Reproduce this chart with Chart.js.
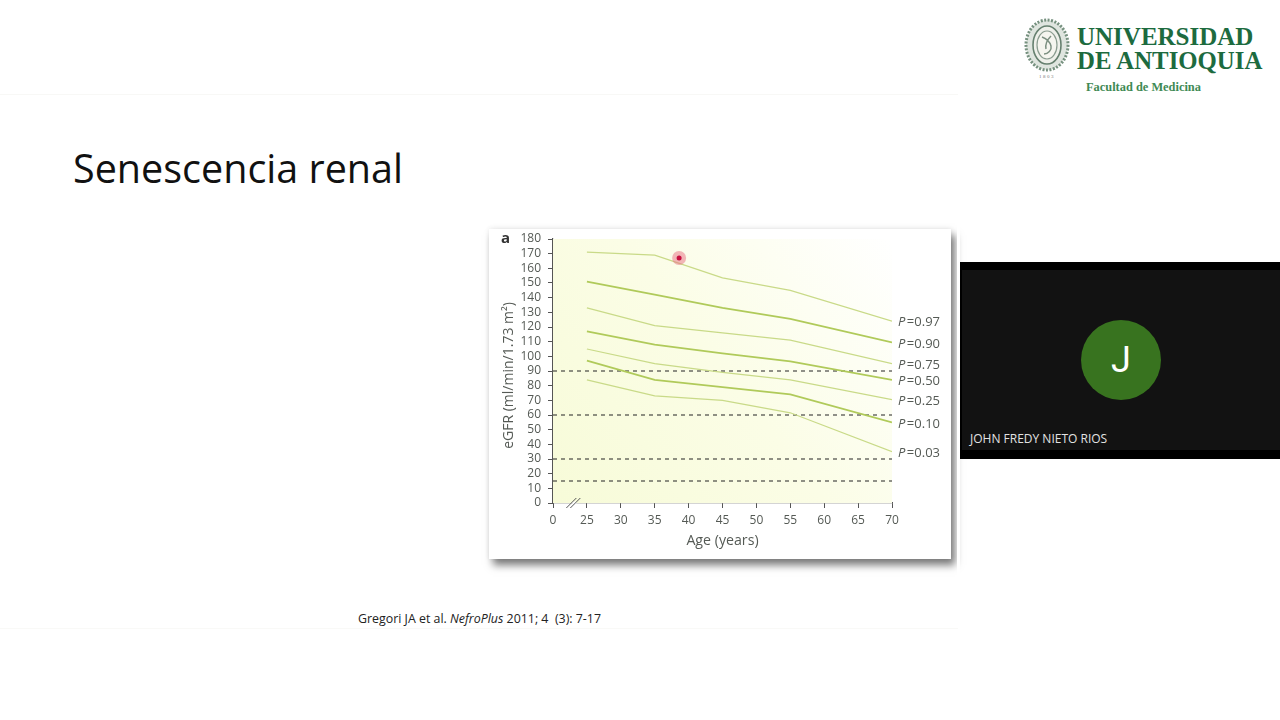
<!DOCTYPE html>
<html lang="es"><head><meta charset="utf-8"><title>Senescencia renal</title>
<script src="https://cdn.jsdelivr.net/npm/chart.js@4"></script>
<style>
html,body{margin:0;padding:0;background:#fff;width:1280px;height:720px;overflow:hidden}
.abs{position:absolute;white-space:nowrap}
#rule1{left:0;top:94px;width:958px;height:1px;background:#f8f8f6}
#rule2{left:0;top:628px;width:958px;height:1px;background:#f9f9f7}
#title{left:73px;top:143px;font:39.5px/50px "Open Sans",sans-serif;color:#111}
#panel{left:489px;top:229px;width:462px;height:330px;background:#fff;box-shadow:4px 6px 8px #777,0 -1px 5px #eee}
#clip{left:957px;top:215px;width:3px;height:365px;background:#fff}
#cite{left:358px;top:610px;font:12.4px/17px "Open Sans",sans-serif;color:#222}
#tile{left:960px;top:262px;width:320px;height:197px;background:#000}
#inner{left:2px;top:8px;width:318px;height:180px;background:#121212}
#avatar{left:121px;top:58px;width:80px;height:80px;border-radius:50%;background:#38731f;color:#fff;font:36px/80px Roboto,sans-serif;text-align:center}
#name{left:10px;top:168px;font:12px/18px "Open Sans",sans-serif;color:#e2e2e2}
.u{font-family:"Liberation Serif",serif;font-weight:bold;color:#1d6b3f}
#u1{left:1077px;top:25px;font-size:25px;line-height:24px}
#u2{left:1077px;top:49px;font-size:24.8px;line-height:24px}
#u3{left:1086px;top:79px;font-size:12.4px;line-height:16px;color:#3f8a55}
#crest{left:1024px;top:17px}
#chart{position:absolute;left:489px;top:229px;filter:blur(.35px)}
</style></head><body>
<div class="abs" id="rule1"></div><div class="abs" id="rule2"></div>
<div class="abs" id="title">Senescencia renal</div>
<div class="abs" id="panel"></div><div class="abs" id="clip"></div>
<canvas id="chart" width="462" height="330" style="width:462px;height:330px"></canvas>
<div class="abs" id="cite">Gregori JA et al. <i>NefroPlus</i> 2011; 4&nbsp; (3): 7-17</div>
<div class="abs" id="tile"><div class="abs" id="inner"></div><div class="abs" id="avatar">J</div><div class="abs" id="name">JOHN FREDY NIETO RIOS</div></div>
<svg class="abs" id="crest" width="48" height="64" viewBox="0 0 48 64">
<ellipse cx="23" cy="28" rx="21" ry="25" fill="#dfe5df" stroke="#76917f" stroke-width="3" stroke-dasharray="2 1.5"/>
<ellipse cx="23" cy="28" rx="14" ry="19" fill="#eef0ea" stroke="#66806f" stroke-width="1.6"/>
<ellipse cx="23" cy="28" rx="10" ry="14" fill="#f5f5ef" stroke="#8a9c8f" stroke-width="1.2"/>
<path d="M18 20c5 2 8 5 9 9s-3 8-7 8M27 19c-3 3-6 8-5 13" fill="none" stroke="#7b8f80" stroke-width="1.5"/>
<text x="23" y="61" font-size="5" letter-spacing="1.5" text-anchor="middle" fill="#777" font-family="Liberation Serif">1803</text>
</svg>
<div class="abs u" id="u1">UNIVERSIDAD</div>
<div class="abs u" id="u2">DE ANTIOQUIA</div>
<div class="abs u" id="u3">Facultad de Medicina</div>
<script>
const ages=[25,35,45,55,70];
const p97=[171,169,153.5,145,124];
const p90=[151,142,133,125.5,109.5];
const p75=[133,121,116,111,95];
const p50=[117,108,102,96.5,84];
const p25=[105,95,89,84,70.5];
const p10=[97,84,79,74,55];
const p03=[84,73,70,61.5,35];
const percentiles=['0.97','0.90','0.75','0.50','0.25','0.10','0.03'];
const curves=[p97,p90,p75,p50,p25,p10,p03];
const thresholds=[90,60,30,15];
const xRange=[20,70];
const pointerAge=[38.6];
const pointerValue=[167];
const ink='#555a55';
const font={family:'"Open Sans",sans-serif',size:12};

const curveSets=curves.map((vals,i)=>({
  label:'P='+percentiles[i],
  data:ages.map((a,j)=>({x:a,y:vals[j]})),
  borderColor:i%2?'#b0ca5a':'#c9da88',
  borderWidth:i%2?1.8:1.2,pointRadius:0,tension:0,isCurve:true,order:2
}));
const lineSets=thresholds.map(t=>({
  label:'eGFR '+t,
  data:xRange.map(x=>({x,y:t})),
  borderColor:'#222',borderWidth:1,borderDash:[4,4],pointRadius:0,order:3
}));
const pointerSets=[
  {label:'halo',data:[{x:pointerAge[0],y:pointerValue[0]}],pointRadius:7,pointBackgroundColor:'rgba(232,110,130,.5)',pointBorderWidth:0,showLine:false,order:1},
  {label:'puntero',data:[{x:pointerAge[0],y:pointerValue[0]}],pointRadius:2.5,pointBackgroundColor:'#c8103f',pointBorderWidth:0,showLine:false,order:0}
];

const decor={
  id:'decor',
  beforeDatasetsDraw(c){
    const {ctx,chartArea:a}=c;
    const g=ctx.createLinearGradient(a.left,a.bottom,a.right,a.top);
    g.addColorStop(0,'#f7fbd8');g.addColorStop(.5,'#fbfde6');g.addColorStop(1,'#ffffff');
    ctx.save();ctx.fillStyle=g;ctx.fillRect(a.left,a.top,a.width,a.height);ctx.restore();
  },
  afterDraw(c){
    const {ctx,scales:{x,y}}=c;
    ctx.save();
    ctx.fillStyle=ink;ctx.textBaseline='middle';
    c.data.datasets.filter(d=>d.isCurve).forEach(d=>{
      const last=d.data[d.data.length-1];
      const py=y.getPixelForValue(last.y)+1.5, px=x.getPixelForValue(70)+6;
      const a=d.label.slice(0,1), b=d.label.slice(1);
      ctx.font='italic 13px "Open Sans",sans-serif';ctx.fillText(a,px,py);
      const w=ctx.measureText(a).width;
      ctx.font='13px "Open Sans",sans-serif';ctx.fillText(b,px+w+1.5,py);
    });
    ctx.fillStyle='#333';ctx.font='bold 15px "Open Sans",sans-serif';ctx.fillText('a',12,10);
    ctx.save();
    ctx.translate(20,y.getPixelForValue(87));ctx.rotate(-Math.PI/2);
    ctx.textAlign='center';ctx.fillStyle=ink;ctx.font='14px "Open Sans",sans-serif';
    ctx.fillText('eGFR (ml/min/1.73 m²)',0,0);
    ctx.restore();
    const bx=x.getPixelForValue(23), by=y.getPixelForValue(0);
    ctx.strokeStyle='#fff';ctx.lineWidth=3;ctx.beginPath();ctx.moveTo(bx-1,by);ctx.lineTo(bx+3,by);ctx.stroke();
    ctx.strokeStyle='#555';ctx.lineWidth=1;
    [-2,2].forEach(o=>{ctx.beginPath();ctx.moveTo(bx+o-5,by+5);ctx.lineTo(bx+o+5,by-5);ctx.stroke();});
    ctx.restore();
  }
};

new Chart(document.getElementById('chart'),{
  type:'line',
  data:{datasets:[...curveSets,...lineSets,...pointerSets]},
  plugins:[decor],
  options:{
    responsive:false,animation:false,
    layout:{padding:{left:12,top:10,right:59,bottom:10}},
    plugins:{legend:{display:false},tooltip:{enabled:false}},
    scales:{
      x:{type:'linear',min:xRange[0],max:xRange[1],
        afterFit(s){s.height=46;},
        grid:{drawOnChartArea:false,drawTicks:true,tickLength:5,color:'#555'},
        border:{color:'#555',width:1.2},
        ticks:{stepSize:5,autoSkip:false,maxRotation:0,color:ink,font,padding:5,callback:v=>v===xRange[0]?'0':String(v)},
        title:{display:true,text:'Age (years)',color:ink,font:{family:font.family,size:14.2},padding:0}},
      y:{type:'linear',min:0,max:180,
        afterFit(s){s.width=52;s.paddingTop=0;s.paddingBottom=0;},
        grid:{drawOnChartArea:false,drawTicks:true,tickLength:5,color:'#555'},
        border:{color:'#555',width:1.2},
        ticks:{stepSize:10,autoSkip:false,color:ink,font,padding:7}}
    }
  }
});
</script>
</body></html>
